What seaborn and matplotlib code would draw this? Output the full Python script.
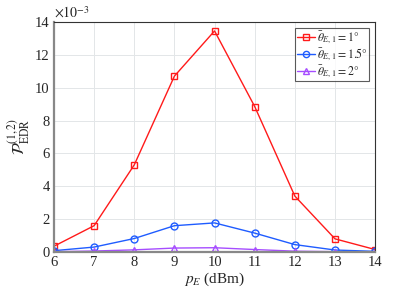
import numpy as np
import pandas as pd
import matplotlib
matplotlib.use("Agg")
import matplotlib.pyplot as plt
import seaborn as sns

# data (values in units of 1e-3)
p_e = [6, 7, 8, 9, 10, 11, 12, 13, 14]
edr_1deg = [0.35, 1.6, 5.3, 10.7, 13.45, 8.85, 3.4, 0.8, 0.15]
edr_15deg = [0.08, 0.3, 0.82, 1.6, 1.77, 1.15, 0.45, 0.12, 0.04]
edr_2deg = [0.02, 0.06, 0.13, 0.24, 0.26, 0.15, 0.05, 0.02, 0.01]
labels = [r"$\bar{\theta}_{E,1} = 1°$", r"$\bar{\theta}_{E,1} = 1.5°$", r"$\bar{\theta}_{E,1} = 2°$"]

sns.set_style("whitegrid")
plt.rcParams["font.family"] = ["Liberation Serif", "DejaVu Serif"]
plt.rcParams["mathtext.fontset"] = "stix"

fig = plt.figure(figsize=(4.15, 2.88), dpi=100)
ax = fig.add_axes([0.130, 0.125, 0.774, 0.799])

series = [edr_1deg, edr_15deg, edr_2deg]
colors = ["#ff1a1a", "#1f5cff", "#a64dff"]
markers = ["s", "o", "^"]
for vals, lab, c, m in zip(series, labels, colors, markers):
    df = pd.DataFrame({"p": p_e, "v": np.array(vals) * 1e-3})
    sns.lineplot(data=df, x="p", y="v", ax=ax, color=c, marker=m, label=lab,
                 markersize=5, markerfacecolor="none", markeredgecolor=c,
                 markeredgewidth=1.0, linewidth=1.0)

ax.set_xlim(6, 14)
ax.set_ylim(0, 0.014)
ax.set_xticks(range(6, 15))
ax.set_yticks(np.arange(0, 0.0141, 0.002))
ax.set_yticklabels([str(int(v)) for v in range(0, 15, 2)])
ax.text(0.0, 1.005, r"$\times10^{-3}$", transform=ax.transAxes, fontsize=10,
        ha="left", va="bottom")
ax.set_xlabel(r"$p_E$ (dBm)", fontsize=11, labelpad=1)
ax.set_ylabel(r"$\mathcal{P}_{\mathrm{EDR}}^{(1,2)}$", fontsize=12, labelpad=2)
ax.tick_params(direction="in", length=3, labelsize=10.5, color="#444444", pad=3)
ax.grid(True, color="#e3e6e8", linewidth=0.7)
for s in ax.spines.values():
    s.set_color("#333333")
    s.set_linewidth(0.8)
ax.spines["left"].set_color("#888888")
ax.spines["left"].set_linewidth(1.6)
ax.spines["bottom"].set_color("#888888")
ax.spines["bottom"].set_linewidth(1.6)

leg = ax.legend(loc="upper right", fontsize=8.5, frameon=True, fancybox=False,
                borderpad=0.15, handlelength=1.5, handletextpad=0.15,
                labelspacing=0.0, borderaxespad=0.5, markerscale=0.9)
leg.get_frame().set_edgecolor("#333333")
leg.get_frame().set_linewidth(0.8)

fig.savefig("out.png", dpi=100)
